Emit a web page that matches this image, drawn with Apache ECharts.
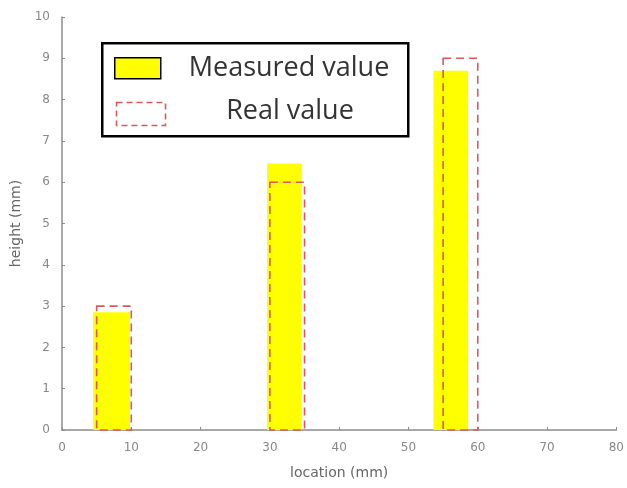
<!DOCTYPE html>
<html><head><meta charset="utf-8">
<script src="https://cdn.jsdelivr.net/npm/echarts@6/dist/echarts.min.js"></script>
<style>html,body{margin:0;padding:0;background:#fff}#c{width:627px;height:488px}</style>
</head><body><div id="c"></div>
<script>
// data
const measuredStart = [4.5, 29.6, 53.6];
const measuredEnd = [9.8, 34.6, 58.6];
const measuredValue = [2.85, 6.45, 8.7];
const realStart = [5, 30, 55];
const realEnd = [10, 35, 60];
const realValue = [3, 6, 9];
const xTicks = [0, 10, 20, 30, 40, 50, 60, 70, 80];
const yTicks = [0, 1, 2, 3, 4, 5, 6, 7, 8, 9, 10];

const measuredData = measuredStart.map((s, i) => [s, measuredEnd[i], measuredValue[i]]);
const realData = realStart.map((s, i) => [s, realEnd[i], realValue[i]]);

function rectItem(style) {
  return function (params, api) {
    const p0 = api.coord([api.value(0), api.value(2)]);
    const p1 = api.coord([api.value(1), 0]);
    return {
      type: 'rect',
      shape: { x: p0[0], y: p0[1], width: p1[0] - p0[0], height: p1[1] - p0[1] },
      style: style
    };
  };
}

const chart = echarts.init(document.getElementById('c'));
const axisGray = '#8c8c8c';
const font = 'DejaVu Sans';
chart.setOption({
  animation: false,
  grid: { left: 62, right: 8, top: 17, bottom: 58 },
  xAxis: {
    type: 'value', min: xTicks[0], max: xTicks[xTicks.length - 1], interval: 10,
    name: 'location (mm)', nameLocation: 'middle', nameGap: 36,
    nameTextStyle: { color: '#666', fontSize: 14, fontFamily: font },
    axisLine: { lineStyle: { color: axisGray, width: 1.5 } },
    axisTick: { show: true, inside: true, length: 3, lineStyle: { color: axisGray } },
    axisLabel: { color: '#888', fontSize: 12, fontFamily: font, margin: 12 },
    splitLine: { show: false }
  },
  yAxis: {
    type: 'value', min: yTicks[0], max: yTicks[yTicks.length - 1], interval: 1,
    name: 'height (mm)', nameLocation: 'middle', nameGap: 34,
    nameTextStyle: { color: '#666', fontSize: 14, fontFamily: font },
    axisLine: { show: true, lineStyle: { color: axisGray, width: 1.5 } },
    axisTick: { show: true, inside: true, length: 3, lineStyle: { color: axisGray } },
    axisLabel: { color: '#888', fontSize: 12, fontFamily: font, margin: 12 },
    splitLine: { show: false }
  },
  series: [
    {
      name: 'Measured value', type: 'custom', encode: { x: [0, 1], y: 2 },
      data: measuredData,
      renderItem: rectItem({ fill: '#ffff00' })
    },
    {
      name: 'Real value', type: 'custom', encode: { x: [0, 1], y: 2 },
      data: realData, z: 3,
      renderItem: rectItem({ fill: 'none', stroke: '#d9595c', lineWidth: 1.6, lineDash: [8, 5] })
    }
  ],
  graphic: [
    { type: 'rect', left: 101, top: 42, shape: { width: 306, height: 93 },
      style: { fill: '#fff', stroke: '#000', lineWidth: 2.5 }, z: 10 },
    { type: 'rect', left: 114, top: 57, shape: { width: 46, height: 21 },
      style: { fill: '#ffff00', stroke: '#000', lineWidth: 1.5 }, z: 11 },
    { type: 'rect', left: 114, top: 100, shape: { width: 49, height: 23 },
      style: { fill: 'none', stroke: '#d9595c', lineWidth: 1.6, lineDash: [6, 4] }, z: 11 },
    { type: 'text', x: 289, y: 68, z: 11,
      style: { text: 'Measured value', fill: '#333', font: '27px "Open Sans", sans-serif', align: 'center', verticalAlign: 'middle' } },
    { type: 'text', x: 290, y: 111, z: 11,
      style: { text: 'Real value', fill: '#333', font: '27px "Open Sans", sans-serif', align: 'center', verticalAlign: 'middle' } }
  ]
});
</script></body></html>
